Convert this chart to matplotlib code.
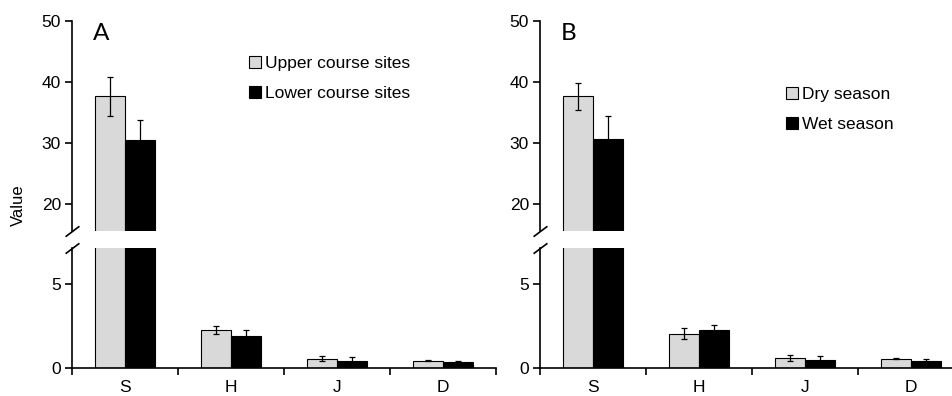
import numpy as np
import matplotlib
matplotlib.use('Agg')
import matplotlib.pyplot as plt

plt.rcParams['font.family'] = ['Liberation Sans', 'DejaVu Sans']

categories = ['S', 'H', 'J', 'D']

# panel A
upper_vals = [37.7, 2.27, 0.55, 0.42]
upper_err = [3.2, 0.25, 0.16, 0.03]
lower_vals = [30.5, 1.9, 0.43, 0.34]
lower_err = [3.3, 0.33, 0.22, 0.10]

# panel B
dry_vals = [37.7, 2.03, 0.60, 0.56]
dry_err = [2.2, 0.33, 0.17, 0.03]
wet_vals = [30.6, 2.23, 0.49, 0.41]
wet_err = [3.9, 0.35, 0.20, 0.10]

W, H = 953, 396
fig = plt.figure(figsize=(W / 100, H / 100), dpi=100)

gray = '#d9d9d9'
bw = 0.283
x = np.arange(len(categories))
fs = 12.5


def fx(px):
    return px / W


def fy(py):
    return 1 - py / H


def panel(left_px, vals1, err1, vals2, err2, lab1, lab2, letter, leg_xy):
    width = 424
    top_ax = fig.add_axes([fx(left_px), fy(231), fx(width), fy(21) - fy(231)])
    bot_ax = fig.add_axes([fx(left_px), fy(368), fx(width), fy(248.5) - fy(368)])
    for ax in (top_ax, bot_ax):
        ax.bar(x - bw / 2, vals1, bw, color=gray, edgecolor='black', linewidth=0.8,
               label=lab1)
        ax.bar(x + bw / 2, vals2, bw, color='black', edgecolor='black', linewidth=0.8,
               label=lab2)
        ax.errorbar(x - bw / 2, vals1, yerr=err1, fmt='none', ecolor='black',
                    elinewidth=0.9, capsize=2.5, capthick=0.9)
        ax.errorbar(x + bw / 2, vals2, yerr=err2, fmt='none', ecolor='black',
                    elinewidth=0.9, capsize=2.5, capthick=0.9)
        ax.set_xlim(-0.5, 3.5)
        for s in ('top', 'right'):
            ax.spines[s].set_visible(False)
        ax.spines['left'].set_linewidth(1.2)
        ax.spines['bottom'].set_linewidth(1.2)
        ax.tick_params(axis='y', direction='out', length=5, width=1.2, labelsize=fs,
                       colors='black', pad=3)
        ax.set_facecolor('none')

    top_ax.set_ylim(15.6, 50)
    top_ax.set_yticks([20, 30, 40, 50])
    top_ax.spines['bottom'].set_visible(False)
    top_ax.set_xticks([])

    bot_ax.set_ylim(0, 7.1)
    bot_ax.set_yticks([0, 5])
    bot_ax.set_xticks([-0.5, 0.5, 1.5, 2.5, 3.5], minor=False)
    bot_ax.set_xticklabels([])
    bot_ax.set_xticks(x, minor=True)
    bot_ax.set_xticklabels(categories, minor=True)
    bot_ax.tick_params(axis='x', which='major', direction='out', length=5, width=1.2)
    bot_ax.tick_params(axis='x', which='minor', length=0, labelsize=fs, pad=9)

    # break marks
    mk = [(-1.33, -1), (1.33, 1)]
    top_ax.plot([0], [0], transform=top_ax.transAxes, marker=mk, markersize=10,
                mec='black', mew=1.2, clip_on=False, linestyle='none')
    bot_ax.plot([0], [1], transform=bot_ax.transAxes, marker=mk, markersize=10,
                mec='black', mew=1.2, clip_on=False, linestyle='none')

    fig.text(fx(left_px + 21), fy(34), letter, fontsize=17.5, family=['Lato', 'DejaVu Sans'],
             va='center', ha='left')
    top_ax.legend(loc='upper left', bbox_to_anchor=(fx(leg_xy[0]), fy(leg_xy[1])),
                  bbox_transform=fig.transFigure, frameon=False, fontsize=fs,
                  handlelength=0.7, handleheight=0.7, handletextpad=0.25,
                  labelspacing=0.85, borderpad=0, borderaxespad=0)


panel(72, upper_vals, upper_err, lower_vals, lower_err,
      'Upper course sites', 'Lower course sites', 'A', (249, 56))
panel(540, dry_vals, dry_err, wet_vals, wet_err,
      'Dry season', 'Wet season', 'B', (786, 87))

fig.text(fx(18), fy(205), 'Value', rotation=90, fontsize=12, va='center', ha='center')

fig.savefig('out.png', dpi=100)
